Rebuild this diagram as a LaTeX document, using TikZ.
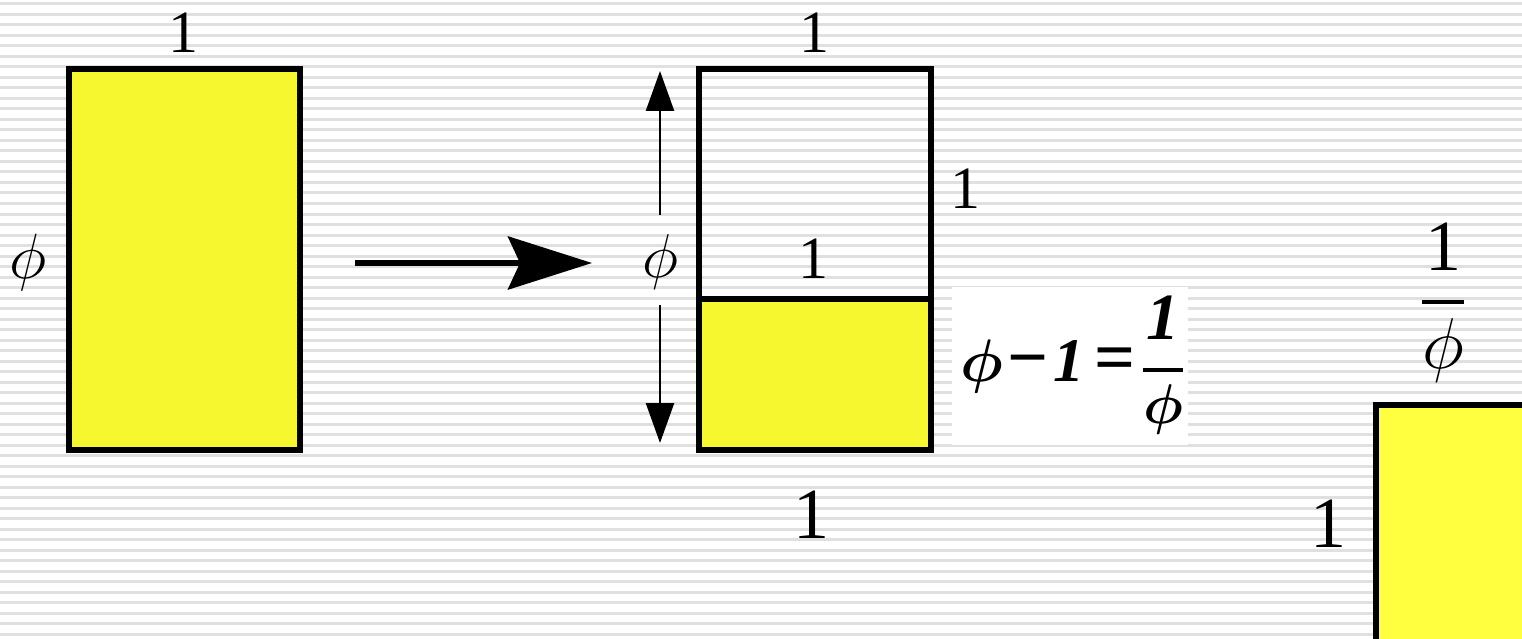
\documentclass[tikz,border=0pt]{standalone}
\usepackage{fix-cm}
\usepackage{amsmath}
\usepackage{fontspec}
\setmainfont{Liberation Serif}
\usetikzlibrary{arrows.meta, positioning}
\definecolor{rectyellow}{RGB}{247,247,47}
\definecolor{sqyellow}{RGB}{255,255,64}
\definecolor{stripegray}{RGB}{224,224,224}

\begin{document}
\begin{tikzpicture}[x=1pt, y=-1pt,
  box/.style={draw=black, line width=6pt, inner sep=0pt, outer sep=0pt},
  lbl/.style={font=\fontsize{60}{60}\selectfont, inner sep=0pt, anchor=base},
  biglbl/.style={font=\fontsize{72}{72}\selectfont, inner sep=0pt, anchor=base},
  dimarrow/.style={line width=2.5pt, -{Triangle[length=40pt, width=28pt]}}]

  \useasboundingbox (0,0) rectangle (1522,639);

  % Striped background
  \fill[white] (0,0) rectangle (1522,639);
  \foreach \k in {0,...,60}
    \draw[stripegray, line width=3pt] (0,4+10.5*\k) -- (1522,4+10.5*\k);

  % Golden rectangle
  \node[box, fill=rectyellow, minimum width=231pt, minimum height=380pt] (goldrect) at (184,259.5) {};
  \node[lbl] (goldw) at (183,53) {1};
  \node[lbl, font=\fontsize{64}{64}\selectfont] (goldh) at (28,278) {$\phi$};

  % Arrow
  \coordinate (arrstart) at (355,263);
  \coordinate (arrend) at (592,263);
  \draw[line width=6pt, -{Stealth[length=84pt, width=53pt, inset=12pt]}] (arrstart) -- (arrend);

  % Split rectangle: square on top, small rectangle below
  \node[box, minimum width=232pt, minimum height=229.5pt] (topsq) at (814.5,184.25) {};
  \node[box, fill=rectyellow, minimum width=232pt, minimum height=150.5pt] (smallrect) at (814.5,374.25) {};
  \node[lbl] (topw) at (814,53) {1};
  \node[lbl] (toph) at (965,208) {1};
  \node[lbl] (midw) at (813,278) {1};
  \node[biglbl] (bottomw) at (811,538) {1};

  % Height of the split rectangle
  \node[lbl, font=\fontsize{62}{62}\selectfont] (midphi) at (660,277) {$\phi$};
  \coordinate (phitop) at (660,71);
  \coordinate (phibot) at (660,443);
  \draw[dimarrow, shorten <=19pt] (midphi.north) -- (phitop);
  \draw[dimarrow, shorten <=16pt] (midphi.south) -- (phibot);

  % Relation
  \node[fill=white, inner sep=0pt, minimum width=236pt, minimum height=158pt] (eqbox) at (1070,366) {};
  \node[anchor=base west, inner sep=0pt, font=\fontsize{43}{50}\selectfont\boldmath] (eqn) at (960,381) {{\fontsize{60}{60}\selectfont$\phi$}\hspace{5pt}{\fontsize{72}{72}\selectfont\bfseries −}\hspace{5pt}{\fontsize{62}{62}\selectfont\bfseries\itshape 1}\hspace{10pt}{\fontsize{72}{72}\selectfont\bfseries =}\hspace{6pt}$\genfrac{}{}{4pt}{0}{\text{\raisebox{9pt}{\fontsize{66}{66}\selectfont\bfseries\itshape 1}}}{\text{\fontsize{56}{56}\selectfont$\phi$}}$};

  % Small rectangle, turned
  \node[box, fill=sqyellow, minimum width=300pt, minimum height=300pt] (turnrect) at (1525.5,554.5) {};
  \node[anchor=base, inner sep=0pt, font=\fontsize{72}{72}\selectfont] (turnw) at (1443,319.5) {$\genfrac{}{}{4pt}{0}{\text{1}}{\phi}$};
  \node[biglbl] (turnh) at (1328,547) {1};
\end{tikzpicture}
\end{document}
